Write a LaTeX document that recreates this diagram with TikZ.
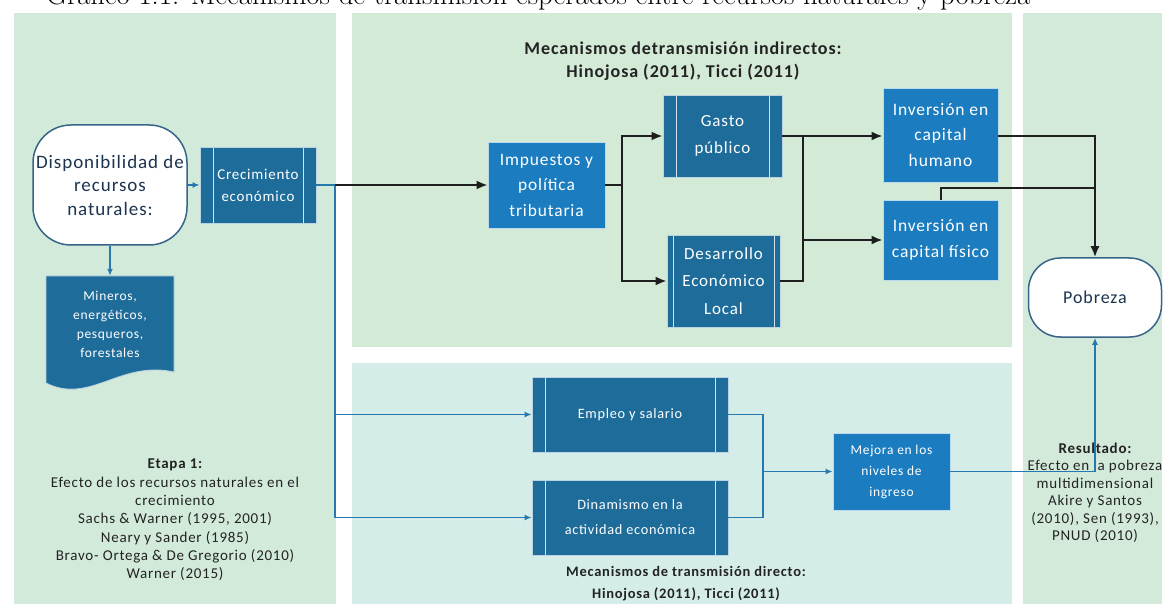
\documentclass[tikz,border=0pt]{standalone}
\usepackage{fontspec}
\newfontfamily\dg[LetterSpace=5]{Carlito}
\usetikzlibrary{arrows.meta}
\definecolor{panelA}{RGB}{210,234,218}
\definecolor{panelB}{RGB}{211,234,214}
\definecolor{panelC}{RGB}{213,237,233}
\definecolor{panelD}{RGB}{211,234,219}
\definecolor{ppblue}{RGB}{30,108,154}
\definecolor{brblue}{RGB}{27,125,192}
\definecolor{termline}{RGB}{55,100,135}
\definecolor{termtext}{RGB}{28,52,80}
\definecolor{connB}{RGB}{38,121,174}
\definecolor{connK}{RGB}{30,30,30}
\definecolor{txt}{RGB}{35,35,35}
\newcommand{\fsz}[2]{\fontsize{#1}{#2}\selectfont}
\tikzset{
  ppbox/.style={fill=ppblue, draw=white!70!ppblue, line width=0.8pt, text=white, align=center, inner sep=0pt,
    path picture={\draw[white!80!ppblue, line width=1pt]
      ([xshift=#1]path picture bounding box.north west) -- ([xshift=#1]path picture bounding box.south west)
      ([xshift=-#1]path picture bounding box.north east) -- ([xshift=-#1]path picture bounding box.south east);}},
  ppbox/.default=13pt,
  brbox/.style={fill=brblue, draw=white!70!brblue, line width=0.8pt, text=white, align=center, inner sep=0pt},
  term/.style={fill=white, draw=termline, line width=1.5pt, text=termtext, align=center, inner sep=0pt},
  cK/.style={draw=connK, line width=2pt},
  aK/.style={cK, -{Latex[length=11pt,width=9pt]}},
  cB/.style={draw=connB, line width=1.6pt},
  aB/.style={cB, -{Latex[length=7pt,width=6pt]}},
  note/.style={text=txt, align=center, inner sep=0pt}
}
\begin{document}
\begin{tikzpicture}[x=1pt,y=-1pt]
\useasboundingbox (0,0) rectangle (1165,604);
\clip (0,0) rectangle (1165,604);
\fill[white] (0,0) rectangle (1165,604);
% title (cut off at top)
\node[anchor=base west, font=\fontsize{28.8}{30}\selectfont, inner sep=0pt] (title) at (46,4.5)
  {Gráfico 1.1: Mecanismos de transmisión esperados entre recursos naturales y pobreza};
% panels
\fill[panelA] (14,13) rectangle (336,604);
\fill[panelB] (352,13) rectangle (1012,347);
\fill[panelC] (352,363) rectangle (1012,604);
\fill[panelD] (1023,13) rectangle (1162,604);

% left panel
\node[term, rounded corners=38pt, minimum width=154pt, minimum height=120pt, font=\dg\fsz{19}{23.5}] (disp) at (110,185)
  {Disponibilidad de\\recursos\\naturales:};
\node[ppbox, minimum width=116pt, minimum height=76pt, font=\dg\fsz{15}{22}] (crec) at (258,185)
  {Crecimiento\\económico};
\fill[ppblue, draw=white!70!ppblue, line width=0.8pt] (46,276) -- (174,276) -- (174,372)
  .. controls (120,360) and (90,405) .. (46,383) -- cycle;
\node[text=white, align=center, inner sep=0pt, minimum width=128pt, minimum height=96pt, font=\dg\fsz{13.5}{19}] (min) at (110,324)
  {Mineros,\\energéticos,\\pesqueros,\\forestales};
\node[note, font=\dg\fsz{15}{18.3}] (etapa) at (175,520)
  {{\bfseries Etapa 1:}\\Efecto de los recursos naturales en el\\crecimiento\\Sachs \& Warner (1995, 2001)\\Neary y Sander (1985)\\Bravo- Ortega \& De Gregorio (2010)\\Warner (2015)};

% middle top
\node[note, font=\dg\bfseries\fsz{18}{23}] (tindir) at (683,61.5)
  {Mecanismos detransmisión indirectos:\\Hinojosa (2011), Ticci (2011)};
\node[brbox, minimum width=117pt, minimum height=86pt, font=\dg\fsz{17.4}{25.5}] (imp) at (546.5,185)
  {Impuestos y\\política\\tributaria};
\node[ppbox, minimum width=119pt, minimum height=82pt, font=\dg\fsz{17}{27}] (gasto) at (722.5,136)
  {Gasto\\público};
\node[ppbox=6pt, minimum width=113pt, minimum height=92pt, font=\dg\fsz{17}{27.5}] (des) at (723.5,281)
  {Desarrollo\\Económico\\Local};
\node[brbox, minimum width=115pt, minimum height=94pt, font=\dg\fsz{17.5}{25.5}] (invh) at (940.5,135)
  {Inversión en\\capital\\humano};
\node[brbox, minimum width=115pt, minimum height=80pt, font=\dg\fsz{17.5}{26}] (invf) at (940.5,240)
  {Inversión en\\capital físico};

% right panel
\node[term, rounded corners=32pt, minimum width=133pt, minimum height=79pt, font=\dg\fsz{18}{22}] (pob) at (1095,297.5)
  {Pobreza};
\node[note, font=\dg\fsz{15}{17.5}] (res) at (1095,493)
  {{\bfseries Resultado:}\\Efecto en la pobreza\\multidimensional\\Akire y Santos\\(2010), Sen (1993),\\PNUD (2010)};

% middle bottom
\node[ppbox, minimum width=196pt, minimum height=75pt, font=\dg\fsz{14.3}{25}] (emp) at (630,414.5)
  {Empleo y salario};
\node[ppbox, minimum width=196pt, minimum height=75pt, font=\dg\fsz{14.3}{25}] (din) at (630,517.5)
  {Dinamismo en la\\actividad económica};
\node[brbox, minimum width=117pt, minimum height=77pt, font=\dg\fsz{13.5}{21}] (mej) at (891.5,471.5)
  {Mejora en los\\niveles de\\ingreso};
\node[note, font=\dg\bfseries\fsz{14.5}{22}] (tdir) at (686,584)
  {Mecanismos de transmisión directo:\\Hinojosa (2011), Ticci (2011)};

% connectors
\coordinate (j1) at (335,185);
\coordinate (j2) at (622,185);
\coordinate (j3) at (803,281);
\coordinate (j5) at (1095,188);
\coordinate (j6) at (763,471.5);

\draw[aB] (disp.east) -- (crec.west);
\draw[aB] (disp.south) -- (min.north);
\draw[cB] (crec.east) -- (j1);
\draw[aB] (j1) |- (emp.west);
\draw[aB] (j1) |- (din.west);
\draw[aK] (j1) -- (imp.west);
\draw[cK] (imp.east) -- (j2);
\draw[aK] (j2) |- (gasto.west);
\draw[aK] (j2) |- (des.west);
\draw[aK] (gasto.east) -- (gasto.east -| invh.west);
\draw[cK] (des.east) -- (j3) -- (j3 |- gasto.east);
\draw[aK] (j3 |- invf.west) -- (invf.west);
\draw[aK] (invh.east |- gasto.east) -| (pob.north);
\draw[cK] (invf.north) |- (j5);
\draw[cB] (emp.east) -| (j6);
\draw[cB] (din.east) -| (j6);
\draw[aB] (j6) -- (mej.west);
\draw[aB] (mej.east) -| (pob.south);
\end{tikzpicture}
\end{document}
